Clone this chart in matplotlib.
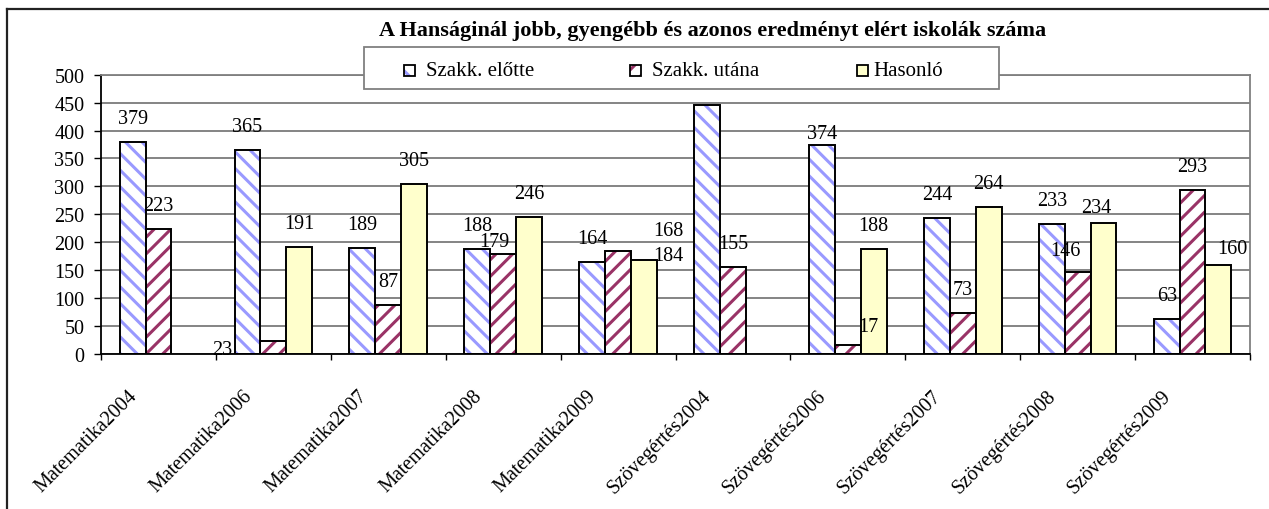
import matplotlib.pyplot as plt
import numpy as np
from matplotlib.patches import Rectangle
from matplotlib.lines import Line2D
from matplotlib.transforms import ScaledTranslation

# Data
categories = ["Matematika2004", "Matematika2006", "Matematika2007", "Matematika2008",
              "Matematika2009", "Szövegértés2004", "Szövegértés2006", "Szövegértés2007",
              "Szövegértés2008", "Szövegértés2009"]
series_names = ["Szakk. előtte", "Szakk. utána", "Hasonló"]
szakk_elotte = [379, 365, 189, 188, 164, 445, 374, 244, 233, 63]
szakk_utana = [223, 23, 87, 179, 184, 155, 17, 73, 146, 293]
hasonlo = [None, 191, 305, 246, 168, None, 188, 264, 234, 160]

plt.rcParams['font.family'] = ['Liberation Serif', 'DejaVu Serif']
plt.rcParams['hatch.linewidth'] = 2.2

W, H = 1269, 510
fig = plt.figure(figsize=(W / 100, H / 100), dpi=100)
ax = fig.add_axes([101 / W, 1 - 355 / H, (1250 - 101) / W, (355 - 75.7) / H])

colors = ['#9999FF', '#993366', '#FFFFCC']
hatches = ['\\\\', '//', None]
w = 0.225
x = np.arange(len(categories))

# label offsets in pixels (dx, dy up from bar top); Excel moved a few of them
default_off = (0, 23.5)
label_off = {(1, 1): (-51, -8), (1, 3): (-9, 13), (2, 4): (24, 30), (1, 4): (50, -4),
             (1, 6): (20, 18), (1, 8): (-12, 22), (2, 8): (-7, 16), (2, 9): (14, 16),
             (0, 6): (0, 12)}
hidden_labels = {(0, 5)}  # sits under the legend in the original

for i, vals in enumerate([szakk_elotte, szakk_utana, hasonlo]):
    idx = [k for k, v in enumerate(vals) if v is not None]
    pos = x[idx] + (i - 1) * w
    h = [vals[k] for k in idx]
    if hatches[i]:
        ax.bar(pos, h, w, color='white', edgecolor=colors[i], hatch=hatches[i],
               linewidth=0, zorder=2)
        ax.bar(pos, h, w, fill=False, edgecolor='black', linewidth=1.4, zorder=3)
    else:
        ax.bar(pos, h, w, color=colors[i], edgecolor='black', linewidth=1.4, zorder=3)
    for k, p, v in zip(idx, pos, h):
        if (i, k) in hidden_labels:
            continue
        dx, dy = label_off.get((i, k), default_off)
        ax.annotate(str(v), (p, v), xytext=(dx, dy), textcoords='offset pixels',
                    ha='center', va='center', fontsize=14.5, zorder=4)

ax.set_xlim(-0.5, len(categories) - 0.5)
ax.set_ylim(0, 500)
ax.set_yticks(np.arange(0, 501, 50))
ax.yaxis.grid(True, color='#707070', linewidth=1.2)
ax.set_axisbelow(True)
ax.tick_params(axis='y', direction='out', length=5, width=1, pad=7, labelsize=14.5)

ax.set_xticks(x)
ax.set_xticklabels(categories, rotation=45, ha='right', va='top', rotation_mode='anchor',
                   fontsize=14.5)
ax.set_xticks(np.arange(-0.5, len(categories)), minor=True)
ax.tick_params(axis='x', which='major', length=0, pad=23)
ax.tick_params(axis='x', which='minor', direction='out', length=4.5, width=1)
shift = ScaledTranslation(-31 / 100, 0, fig.dpi_scale_trans)
for lab in ax.get_xticklabels():
    lab.set_transform(lab.get_transform() + shift)

for s in ['left', 'bottom']:
    ax.spines[s].set_color('black')
    ax.spines[s].set_linewidth(1.3)
for s in ['top', 'right']:
    ax.spines[s].set_color('#808080')
    ax.spines[s].set_linewidth(1.3)


def px(xp, yp):
    return xp / W, 1 - yp / H


# title
fig.text(*px(713, 31), "A Hanságinál jobb, gyengébb és azonos eredményt elért iskolák száma",
         ha='center', va='center', fontsize=16, fontweight='bold')

# legend box drawn by hand to match Excel layout
fig.add_artist(Rectangle(px(364, 90), (999 - 364) / W, 42 / H, facecolor='white',
                         edgecolor='#808080', linewidth=1.3, zorder=5))
for (sx, tx), name, c, hch in zip([(404, 426), (630, 652), (857, 873)], series_names,
                                  colors, hatches):
    if hch:
        fig.add_artist(Rectangle(px(sx, 77), 11 / W, 11 / H, facecolor='white',
                                 edgecolor=c, hatch=hch, linewidth=0, zorder=6))
        fig.add_artist(Rectangle(px(sx, 77), 11 / W, 11 / H, fill=False,
                                 edgecolor='black', linewidth=1.3, zorder=7))
    else:
        fig.add_artist(Rectangle(px(sx, 77), 11 / W, 11 / H, facecolor=c,
                                 edgecolor='black', linewidth=1.3, zorder=7))
    fig.text(*px(tx, 71.5), name, ha='left', va='center', fontsize=15, zorder=8)

# outer chart frame (left and top edges visible)
fig.add_artist(Line2D([7 / W, 7 / W], [0, 1 - 10 / H], color='#222222', linewidth=1.6))
fig.add_artist(Line2D([7 / W, 1], [1 - 10 / H, 1 - 10 / H], color='#222222', linewidth=1.6))

fig.savefig('out.png', dpi=100)
